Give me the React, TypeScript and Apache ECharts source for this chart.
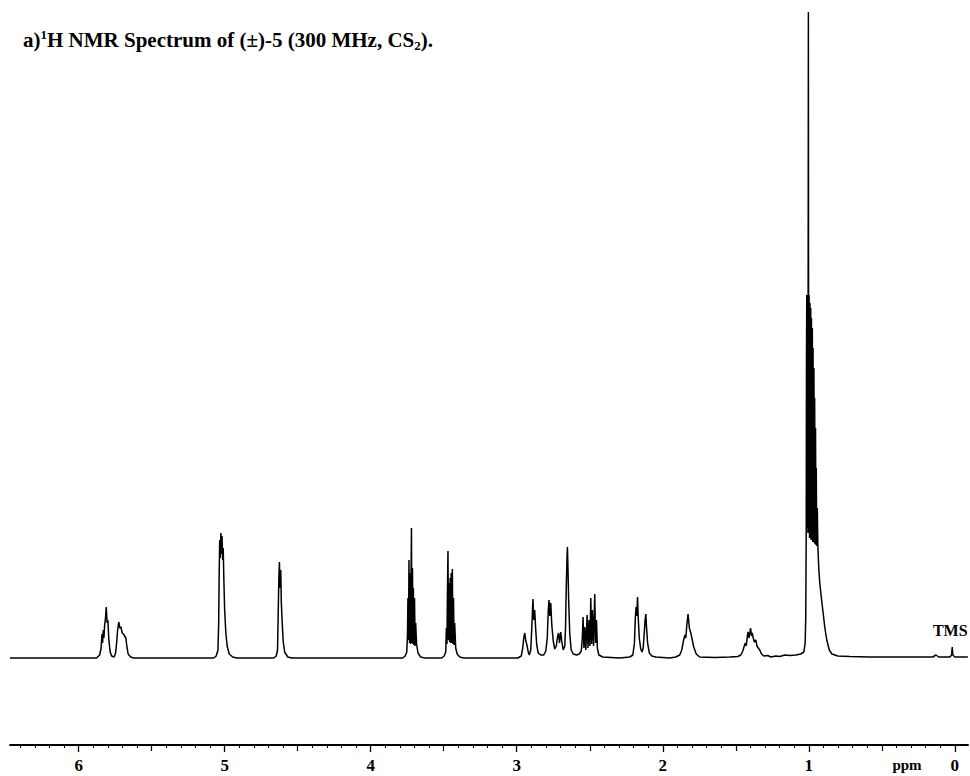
import React, { useEffect, useRef } from "react";
import * as echarts from "echarts";

// Trace vertices: chemical shift (ppm) and intensity (arbitrary units)
const ppm = [
  6.47, 5.877, 5.856, 5.846, 5.84, 5.836, 5.831, 5.827, 5.822, 5.816, 5.811, 5.805, 5.8, 5.793, 5.784, 5.774,
  5.757, 5.747, 5.74, 5.733, 5.725, 5.718, 5.71, 5.702, 5.693, 5.685, 5.677, 5.67, 5.661, 5.644, 5.623,
  5.075, 5.058, 5.046, 5.041, 5.038, 5.034, 5.03, 5.026, 5.022, 5.018, 5.014, 5.01, 5.005, 5.0, 4.992, 4.983,
  4.969, 4.945, 4.918,
  4.664, 4.647, 4.638, 4.634, 4.629, 4.625, 4.621, 4.616, 4.612, 4.606, 4.599, 4.589, 4.568, 4.54,
  3.781, 3.764, 3.753, 3.748, 3.745, 3.741, 3.738, 3.734, 3.731, 3.727, 3.724, 3.721, 3.718, 3.714, 3.711,
  3.708, 3.704, 3.7, 3.696, 3.692, 3.686, 3.676, 3.658, 3.63,
  3.514, 3.497, 3.486, 3.482, 3.478, 3.475, 3.471, 3.467, 3.464, 3.46, 3.456, 3.453, 3.449, 3.446, 3.441,
  3.437, 3.433, 3.429, 3.425, 3.418, 3.408, 3.39, 3.363,
  2.993, 2.969, 2.959, 2.952, 2.945, 2.938, 2.932, 2.921, 2.914, 2.904, 2.897, 2.889, 2.883, 2.877, 2.87,
  2.863, 2.853, 2.836, 2.815, 2.801, 2.791, 2.784, 2.779, 2.773, 2.767, 2.76, 2.75, 2.74, 2.729, 2.721,
  2.714, 2.707, 2.699, 2.692, 2.682, 2.671, 2.666, 2.661, 2.656, 2.653, 2.649, 2.644, 2.637, 2.627, 2.613,
  2.589, 2.572, 2.558, 2.551, 2.546, 2.54, 2.534, 2.527, 2.518, 2.512, 2.505, 2.499, 2.493, 2.487, 2.482,
  2.474, 2.466, 2.46, 2.454, 2.448, 2.438, 2.411, 2.295,
  2.226, 2.205, 2.194, 2.188, 2.183, 2.178, 2.173, 2.168, 2.161, 2.151, 2.142, 2.134, 2.127, 2.121, 2.116,
  2.111, 2.104, 2.092, 2.075, 2.048, 1.952,
  1.911, 1.884, 1.87, 1.86, 1.849, 1.842, 1.836, 1.827, 1.818, 1.808, 1.798, 1.788, 1.771, 1.747, 1.644,
  1.541, 1.486, 1.466, 1.452, 1.442, 1.435, 1.428, 1.421, 1.416, 1.409, 1.399, 1.392, 1.387, 1.382, 1.373,
  1.363, 1.355, 1.346, 1.336, 1.324, 1.308, 1.281, 1.26, 1.226, 1.199, 1.164, 1.13, 1.089,
  1.055, 1.034, 1.025, 1.021, 1.018, 1.016, 1.014, 1.012, 1.009, 1.006, 1.003, 1.001, 0.998, 0.995, 0.992,
  0.99, 0.987, 0.984, 0.982, 0.979, 0.976, 0.973, 0.971, 0.968, 0.965, 0.962, 0.96, 0.957, 0.954, 0.951,
  0.949, 0.946, 0.942, 0.938, 0.932, 0.925, 0.914, 0.902, 0.89, 0.877, 0.86, 0.842, 0.801, 0.719, 0.582,
  0.377, 0.205, 0.151, 0.13, 0.11, 0.034, 0.022, 0.018, 0.014, 0.0, -0.089,
];

const intensity = [
  0, 0, 3, 10, 24, 15, 28, 20, 33, 40, 51, 35, 38, 18, 6, 2,
  1, 5, 15, 28, 36, 30, 31, 25, 24, 22, 20, 12, 4, 1, 0,
  0, 2, 8, 35, 80, 118, 100, 125, 104, 122, 98, 110, 75, 48, 25, 12,
  4, 1, 0,
  0, 2, 8, 40, 80, 96, 70, 88, 55, 35, 16, 6, 1, 0,
  0, 2, 6, 25, 60, 18, 98, 15, 85, 14, 80, 130, 15, 90, 14,
  70, 13, 60, 12, 35, 14, 5, 1, 0,
  0, 2, 6, 30, 14, 60, 107, 18, 75, 16, 80, 15, 85, 15, 89,
  14, 60, 13, 35, 10, 4, 1, 0,
  0, 2, 10, 20, 25, 17, 14, 6, 3, 8, 30, 59, 38, 48, 28,
  13, 5, 3, 3, 7, 20, 48, 58, 42, 55, 33, 17, 9, 12, 21,
  25, 15, 26, 17, 8, 12, 30, 70, 100, 111, 88, 55, 24, 8, 4,
  3, 4, 7, 20, 41, 10, 31, 8, 43, 10, 38, 12, 60, 14, 48,
  12, 64, 15, 38, 10, 3, 1, 0,
  1, 3, 15, 40, 51, 42, 61, 40, 20, 9, 6, 10, 25, 38, 44,
  30, 15, 5, 2, 1, 0,
  1, 3, 8, 16, 23, 20, 32, 44, 30, 25, 18, 11, 4, 1, 0.5,
  1, 1.5, 3, 7, 12, 15, 12, 22, 26, 20, 30, 22, 25, 21, 16,
  18, 12, 10, 8, 4, 2, 2.5, 1, 2, 1.5, 3, 2.5, 3,
  4, 6, 15, 40, 120, 300, 363, 130, 350, 125, 646, 125, 363, 120, 355,
  120, 350, 118, 340, 118, 330, 116, 310, 116, 290, 115, 260, 114, 230, 113,
  190, 112, 150, 111, 90, 75, 60, 45, 30, 18, 8, 4, 2, 1.5, 1,
  1, 1, 1, 3, 1, 1, 3, 11, 3, 1, 1,
];

const majorTicks = [0, 1, 2, 3, 4, 5, 6];
const halfTicks = [0.5, 1.5, 2.5, 3.5, 4.5, 5.5];
const minorTicks: number[] = [];
for (let i = 1; i <= 64; i++) {
  if (i % 5 !== 0) minorTicks.push(i / 10);
}

const X_MIN = -0.09;
const X_MAX = 6.47;
const Y_MIN = -87;
const Y_MAX = 646;

const tmsPoint = [0.018, 11];

const FONT = "Liberation Serif";

export default function App() {
  const ref = useRef<HTMLDivElement>(null);

  useEffect(() => {
    if (!ref.current) return;
    const chart = echarts.init(ref.current, null, { renderer: "svg" });
    const data = ppm.map((p, i) => [p, intensity[i]]);

    const baseX = {
      type: "value" as const,
      gridIndex: 0,
      min: X_MIN,
      max: X_MAX,
      inverse: true,
      position: "bottom" as const,
      splitLine: { show: false },
    };

    chart.setOption({
      animation: false,
      backgroundColor: "#fff",
      title: {
        text: "{m|a)}{s|1}{m|H NMR Spectrum of (±)-5 (300 MHz, CS}{b|2}{m|).}",
        left: 23,
        top: 28,
        padding: 0,
        textStyle: {
          fontFamily: FONT,
          fontWeight: "bold",
          fontSize: 21,
          color: "#000",
          rich: {
            m: { fontFamily: FONT, fontWeight: "bold", fontSize: 21, color: "#000", lineHeight: 24, verticalAlign: "middle" },
            s: { fontFamily: FONT, fontWeight: "bold", fontSize: 13, color: "#000", lineHeight: 17, verticalAlign: "top" },
            b: { fontFamily: FONT, fontWeight: "bold", fontSize: 13, color: "#000", lineHeight: 14, verticalAlign: "bottom" },
          },
        },
      },
      grid: { left: 10, right: 2, top: 12, bottom: 31, containLabel: false },
      xAxis: [
        {
          ...baseX,
          axisLine: { show: true, onZero: false, lineStyle: { color: "#000", width: 1.8 } },
          axisTick: { show: true, inside: false, length: 7, customValues: majorTicks, lineStyle: { color: "#000", width: 1.3 } },
          axisLabel: {
            show: true,
            customValues: majorTicks,
            margin: 12,
            fontFamily: FONT,
            fontWeight: "bold",
            fontSize: 17,
            color: "#000",
            formatter: (v: number) => String(v),
          },
        },
        {
          ...baseX,
          axisLine: { show: false, onZero: false },
          axisTick: { show: true, length: 6, customValues: halfTicks, lineStyle: { color: "#000", width: 1.2 } },
          axisLabel: { show: false },
        },
        {
          ...baseX,
          axisLine: { show: false, onZero: false },
          axisTick: { show: true, length: 3, customValues: minorTicks, lineStyle: { color: "#000", width: 1 } },
          axisLabel: { show: false },
        },
      ],
      yAxis: { type: "value", min: Y_MIN, max: Y_MAX, show: false, splitLine: { show: false } },
      graphic: [
        {
          type: "text",
          x: 907,
          y: 765,
          style: {
            text: "ppm",
            fontFamily: FONT,
            fontWeight: "bold",
            fontSize: 15,
            fill: "#000",
            align: "center",
            verticalAlign: "middle",
          },
        },
      ],
      series: [
        {
          type: "line",
          xAxisIndex: 0,
          data,
          showSymbol: false,
          symbol: "none",
          smooth: false,
          lineStyle: { color: "#000", width: 1.5 },
          markPoint: {
            symbol: "circle",
            symbolSize: 0,
            data: [
              {
                coord: tmsPoint,
                label: {
                  show: true,
                  formatter: "TMS",
                  position: "top",
                  distance: 9,
                  offset: [-2, 0],
                  fontFamily: FONT,
                  fontWeight: "bold",
                  fontSize: 16,
                  color: "#000",
                },
              },
            ],
          },
        },
      ],
    });

    return () => chart.dispose();
  }, []);

  return (
    <div
      ref={ref}
      style={{ position: "fixed", left: 0, top: 0, width: 970, height: 776, background: "#fff" }}
    />
  );
}
